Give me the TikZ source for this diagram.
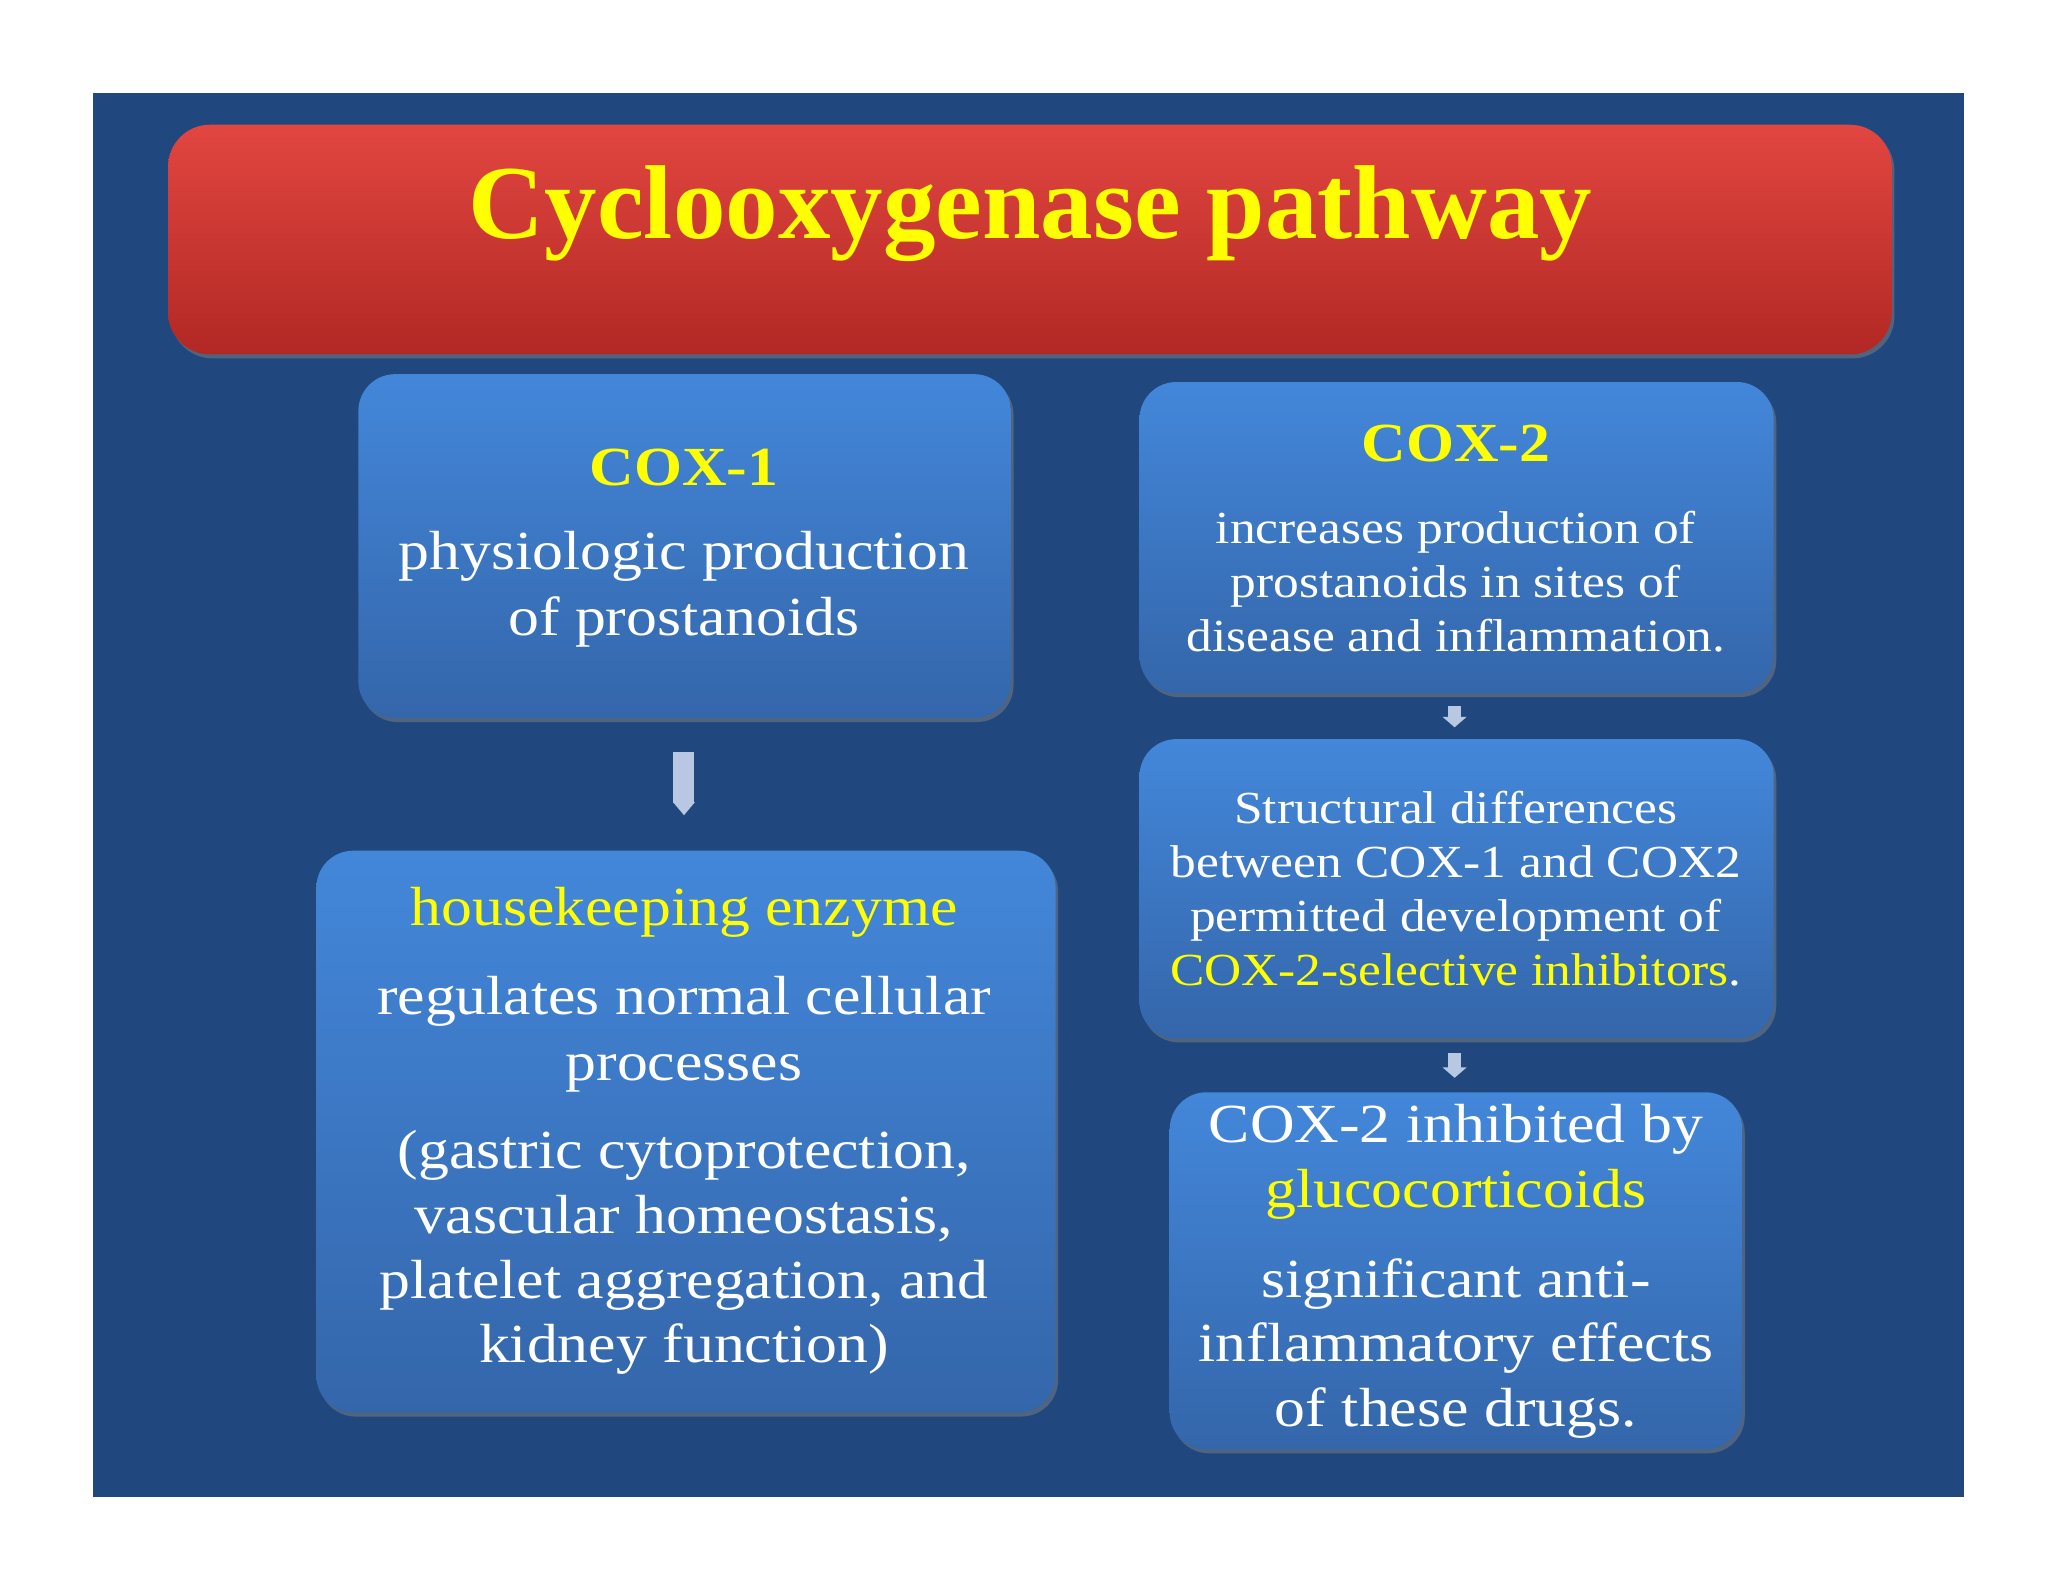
\documentclass[tikz,border=0pt]{standalone}
\usepackage{fontspec}
\setmainfont[FakeStretch=1.12]{Liberation Serif}
\newfontfamily\ttlfont{Liberation Serif}
\usetikzlibrary{arrows.meta,shadows}
\definecolor{bg}{RGB}{33,72,126}
\definecolor{ylw}{RGB}{255,255,0}
\definecolor{arr}{RGB}{184,200,226}
\tikzset{
 box/.style={draw=none,rounded corners=14pt,top color={rgb,255:red,67;green,135;blue,218},bottom color={rgb,255:red,52;green,102;blue,170},drop shadow={shadow xshift=1pt,shadow yshift=-1.5pt,opacity=.5}},
 txt/.style={text=white,align=center,inner sep=0pt}
}
\begin{document}
\begin{tikzpicture}[x=0.5pt,y=-0.5pt]
\useasboundingbox (0,0) rectangle (1560,1205);
\fill[white] (0,0) rectangle (1560,1205);
\fill[bg] (71,71) rectangle (1496,1140);
\shade[rounded corners=16pt,top color={rgb,255:red,226;green,70;blue,64},bottom color={rgb,255:red,178;green,40;blue,36},drop shadow={shadow xshift=1pt,shadow yshift=-1.5pt,opacity=.5}] (128,95) rectangle (1441,270);
\node[txt,text=ylw,font=\ttlfont\bfseries\fontsize{40}{46}\selectfont] (title) at (785,163) {Cyclooxygenase pathway};
% boxes
\path[box] (273,285) rectangle (770,547);
\path[box] (241,648) rectangle (804,1076);
\path[box] (868,291) rectangle (1351,528);
\path[box] (868,563) rectangle (1351,791);
\path[box] (891,832) rectangle (1327,1104);
\node[txt,text=ylw,font=\bfseries\fontsize{21}{25}\selectfont] (c1) at (521,356) {COX-1};
\node[txt,font=\fontsize{21}{25}\selectfont] (c1t) at (521,449) {physiologic production\\of prostanoids};
\node[txt,text=ylw,font=\fontsize{21}{25}\selectfont] (hk) at (521,695) {housekeeping enzyme};
\node[txt,font=\fontsize{21}{25}\selectfont] (hk1) at (521,788) {regulates normal cellular\\processes};
\node[txt,font=\fontsize{21}{24.7}\selectfont] (hk2) at (521,954) {(gastric cytoprotection,\\vascular homeostasis,\\platelet aggregation, and\\kidney function)};
\node[txt,text=ylw,font=\bfseries\fontsize{21}{25}\selectfont] (c2) at (1109,338) {COX-2};
\node[txt,font=\fontsize{17.5}{20.5}\selectfont] (c2t) at (1109,443) {increases production of\\prostanoids in sites of\\disease and inflammation.};
\node[txt,font=\fontsize{17.5}{20.5}\selectfont] (sd) at (1109,677) {Structural differences\\between COX-1 and COX2\\permitted development of\\\textcolor{ylw}{COX-2-selective inhibitors}.};
\node[txt,font=\fontsize{21}{24.5}\selectfont] (inh) at (1109,885) {COX-2 inhibited by\\\textcolor{ylw}{glucocorticoids}};
\node[txt,font=\fontsize{21}{24.5}\selectfont] (sig) at (1109,1027) {significant anti-\\inflammatory effects\\of these drugs.};
% arrows
\coordinate (a1s) at (521,573); \coordinate (a1e) at (521,621);
\coordinate (a2s) at (1108,538); \coordinate (a2e) at (1108,554);
\coordinate (a3s) at (1108,802); \coordinate (a3e) at (1108,821);
\draw[arr,line width=8,-{Triangle[width=8pt,length=5pt]}] (a1s) -- (a1e);
\draw[arr,line width=5,-{Triangle[width=9pt,length=4pt]}] (a2s) -- (a2e);
\draw[arr,line width=5,-{Triangle[width=9pt,length=4pt]}] (a3s) -- (a3e);
\end{tikzpicture}
\end{document}
